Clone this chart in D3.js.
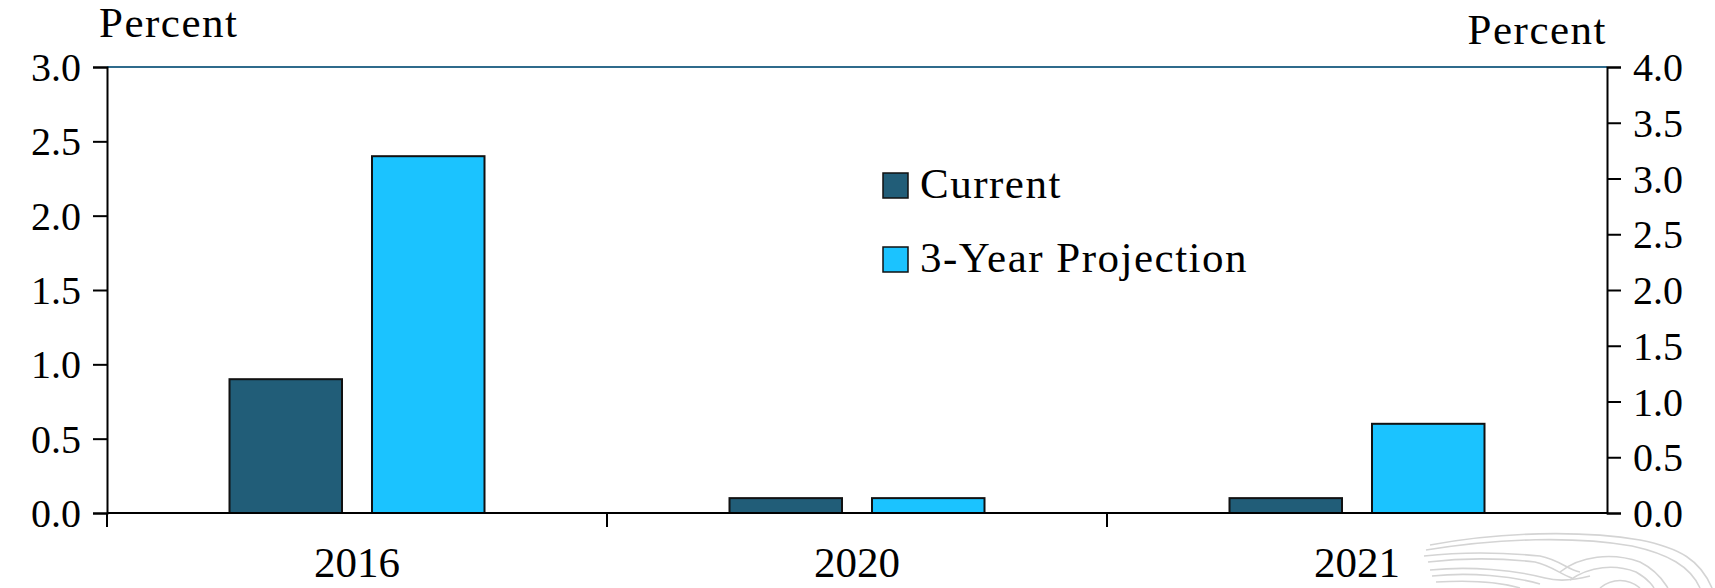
<!DOCTYPE html>
<html>
<head>
<meta charset="utf-8">
<script src="https://cdn.jsdelivr.net/npm/d3@7"></script>
<style>
  html, body { margin: 0; padding: 0; background: #ffffff; }
  svg { display: block; }
  text { font-family: "Liberation Serif", "Times New Roman", serif; fill: #000; }
</style>
</head>
<body>
<svg id="chart" width="1715" height="588"></svg>
<script>
// Years on the category axis
const years = ["2016", "2020", "2021"];
// Series values, percent
const currentValues = [0.9, 0.1, 0.1];
const projectionValues = [2.4, 0.1, 0.6];
const seriesNames = ["Current", "3-Year Projection"];
const seriesColors = ["#215d78", "#1bc3ff"];
// Axis tick labels
const leftTicks = [0, 0.5, 1.0, 1.5, 2.0, 2.5, 3.0];
const rightTicks = [0, 0.5, 1.0, 1.5, 2.0, 2.5, 3.0, 3.5, 4.0];

const svg = d3.select("#chart");
const margin = { left: 107, right: 108, top: 67, bottom: 75 };
const W = 1715, H = 588;
const x0 = margin.left, x1 = W - margin.right;
const yTop = margin.top, yZero = H - margin.bottom;

const x = d3.scaleBand().domain(years).range([x0, x1]).padding(0);
const yL = d3.scaleLinear().domain([0, 3]).range([yZero, yTop]);
const yR = d3.scaleLinear().domain([0, 4]).range([yZero, yTop]);

const tickFont = 40;
const labelFont = 43;

// Bars: each band holds two bars centred on the category
const barW = x.bandwidth() * 0.225;
const gap = x.bandwidth() * 0.06;
const data = years.map((yr, i) => ({ yr, vals: [currentValues[i], projectionValues[i]] }));

const groups = svg.append("g").selectAll("g").data(data).join("g");
groups.selectAll("rect")
  .data(d => d.vals.map((v, k) => ({ yr: d.yr, v, k })))
  .join("rect")
  .attr("x", d => x(d.yr) + x.bandwidth() / 2 + (d.k === 0 ? -gap / 2 - barW : gap / 2))
  .attr("y", d => yL(d.v))
  .attr("width", barW)
  .attr("height", d => yZero - yL(d.v))
  .attr("fill", d => seriesColors[d.k])
  .attr("stroke", "#111")
  .attr("stroke-width", 2);

// Top frame line
svg.append("line")
  .attr("x1", x0).attr("x2", x1).attr("y1", yTop).attr("y2", yTop)
  .attr("stroke", "#2f6b8c").attr("stroke-width", 2);

// Left axis
const left = svg.append("g").attr("transform", `translate(${x0},0)`)
  .call(d3.axisLeft(yL).tickValues(leftTicks).tickFormat(d3.format(".1f")).tickSize(14).tickPadding(12));
// Right axis
const right = svg.append("g").attr("transform", `translate(${x1},0)`)
  .call(d3.axisRight(yR).tickValues(rightTicks).tickFormat(d3.format(".1f")).tickSize(14).tickPadding(12));

[left, right].forEach(g => {
  g.select(".domain").attr("stroke", "#000").attr("stroke-width", 2);
  g.selectAll(".tick line").attr("stroke", "#000").attr("stroke-width", 2);
  g.selectAll(".tick text").attr("font-size", tickFont)
    .attr("font-family", "Liberation Serif, serif").attr("dy", "0.34em");
});

// Category axis along zero, with separators between bands
svg.append("line")
  .attr("x1", x0).attr("x2", x1).attr("y1", yZero).attr("y2", yZero)
  .attr("stroke", "#000").attr("stroke-width", 2);
const sepX = [x0, x(years[1]), x(years[2])];
svg.append("g").selectAll("line").data(sepX).join("line")
  .attr("x1", d => d).attr("x2", d => d)
  .attr("y1", yZero).attr("y2", yZero + 14)
  .attr("stroke", "#000").attr("stroke-width", 2);
svg.append("g").selectAll("text").data(years).join("text")
  .attr("x", d => x(d) + x.bandwidth() / 2)
  .attr("y", yZero + 64)
  .attr("text-anchor", "middle")
  .attr("font-size", labelFont)
  .text(d => d);

// Axis unit titles
svg.append("text").attr("x", 99).attr("y", 37).attr("font-size", labelFont)
  .attr("letter-spacing", 1.5).text("Percent");
svg.append("text").attr("x", 1607).attr("y", 44).attr("text-anchor", "end").attr("font-size", labelFont)
  .attr("letter-spacing", 1.5).text("Percent");

// Legend
const legend = svg.append("g");
seriesNames.forEach((name, i) => {
  const ly = 173 + i * 74;
  legend.append("rect").attr("x", 883).attr("y", ly).attr("width", 25).attr("height", 25)
    .attr("fill", seriesColors[i]).attr("stroke", "#111").attr("stroke-width", 1.5);
  legend.append("text").attr("x", 920).attr("y", ly + 25).attr("font-size", labelFont)
    .attr("letter-spacing", 1.5).text(name);
});

// Faint wing emblem in the lower right corner
const emblem = svg.append("g").attr("fill", "none").attr("stroke", "#d4d4d4").attr("stroke-width", 1.6);
const wingPaths = [
  "M1430,545 C1500,532 1580,530 1640,540 C1680,548 1700,560 1712,588",
  "M1426,550 C1500,538 1575,536 1632,546 C1668,554 1690,566 1700,588",
  "M1424,556 C1460,552 1500,552 1540,556 C1560,560 1568,570 1580,572",
  "M1428,562 C1462,558 1500,558 1535,562 C1552,566 1560,574 1572,578",
  "M1430,570 C1470,566 1515,570 1545,578 C1560,582 1575,580 1590,576",
  "M1432,576 C1470,572 1512,576 1540,584",
  "M1436,582 C1470,580 1500,582 1520,588",
  "M1560,572 C1580,556 1612,552 1640,562 C1660,572 1666,586 1668,588",
  "M1570,580 C1590,566 1615,564 1636,572 C1650,580 1654,588 1654,588",
  "M1600,588 C1612,578 1628,578 1640,588"
];
emblem.selectAll("path").data(wingPaths).join("path").attr("d", d => d);
</script>
</body>
</html>
